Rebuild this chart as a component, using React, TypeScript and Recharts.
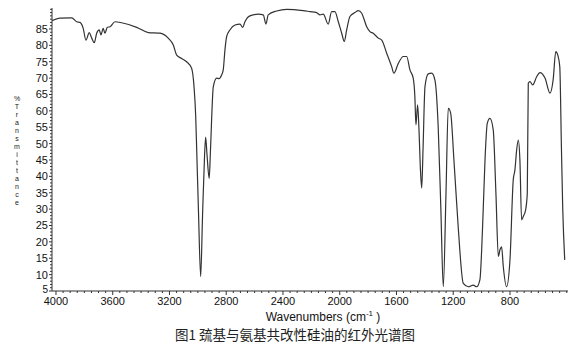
import React from "react";
import { LineChart, Line, XAxis, YAxis } from "recharts";

const wavenumbers = [
  4028, 3972, 3889, 3854, 3831, 3808, 3789, 3765, 3748, 3730, 3713, 3695, 3683, 3667, 3655, 3638, 3619, 3584,
  3537, 3431, 3349, 3267, 3209, 3173, 3149, 3114, 3079, 3044, 3027, 3015, 3008, 2996, 2980, 2967, 2953, 2945,
  2936, 2920, 2911, 2891, 2867, 2851, 2832, 2821, 2809, 2797, 2774, 2738, 2703, 2684, 2668, 2633, 2574, 2539,
  2520, 2504, 2444, 2374, 2257, 2210, 2163, 2139, 2116, 2081, 2057, 2034, 2010, 1986, 1968, 1951, 1928, 1893,
  1869, 1845, 1810, 1787, 1764, 1728, 1704, 1669, 1634, 1618, 1587, 1552, 1528, 1505, 1482, 1470, 1463, 1451,
  1442, 1431, 1422, 1413, 1399, 1376, 1352, 1329, 1306, 1287, 1270, 1251, 1235, 1218, 1195, 1165, 1129, 1094,
  1059, 1035, 1012, 993, 976, 960, 941, 918, 899, 882, 871, 859, 847, 824, 800, 777, 765, 753, 741, 730, 718,
  707, 690, 678, 671, 659, 640, 612, 589, 553, 518, 496, 477, 463, 449, 437, 428, 414,
];

const transmittance = [
  87.5, 88.3, 88.4, 87.2, 87.0, 85.2, 81.6, 83.9, 82.2, 80.8, 83.7, 84.7, 83.2, 85.2, 83.7, 85.5, 85.7, 87.2,
  86.9, 85.5, 83.9, 83.7, 82.2, 80.1, 77.0, 76.0, 75.0, 73.0, 67.4, 58.2, 48.0, 30.0, 9.4, 28.0, 46.0, 52.0,
  47.0, 39.4, 48.0, 67.4, 70.0, 69.8, 71.0, 72.5, 78.6, 82.7, 84.7, 86.2, 86.5, 85.5, 87.2, 89.0, 89.5, 89.3,
  86.5, 89.3, 90.5, 91.0, 90.6, 90.3, 90.0, 89.3, 89.5, 86.5, 90.3, 90.3, 87.2, 83.7, 81.2, 84.7, 88.8, 90.0,
  90.6, 89.8, 85.7, 84.2, 83.7, 82.2, 81.6, 77.6, 73.5, 71.5, 74.5, 76.6, 76.6, 72.5, 70.0, 64.0, 55.7, 61.8,
  55.0, 42.0, 36.4, 48.0, 67.4, 71.3, 71.5, 69.4, 55.2, 29.7, 6.3, 34.8, 60.8, 59.3, 45.0, 24.6, 7.3, 6.3,
  6.8, 6.3, 8.4, 24.6, 45.0, 56.2, 57.7, 54.2, 34.8, 15.5, 17.5, 18.5, 12.4, 6.3, 14.5, 38.9, 42.0, 48.0, 51.1,
  45.0, 26.7, 27.7, 29.7, 34.8, 68.4, 68.9, 67.9, 70.4, 71.7, 70.0, 65.4, 69.4, 78.1, 77.0, 73.5, 48.0, 30.0,
  14.5,
];

const xMajorTicks = [4000, 3600, 3200, 2800, 2400, 2000, 1600, 1200, 800];
const yMajorTicks = [5, 10, 15, 20, 25, 30, 35, 40, 45, 50, 55, 60, 65, 70, 75, 80, 85];

const yLabel = "%Transmittance";
const xLabel = "Wavenumbers (cm";
const caption = "图1 巯基与氨基共改性硅油的红外光谱图";

const data = wavenumbers.map((wn, i) => ({ wn, t: transmittance[i] }));

const xTicks: number[] = [];
for (let v = 4000; v >= 400; v -= 50) xTicks.push(v);
const yTicks: number[] = [];
for (let v = 5; v <= 91; v += 1) yTicks.push(v);

const FONT = "'Liberation Sans', Arial, sans-serif";

const XTick = (props: any) => {
  const { x, y, payload } = props;
  const major = xMajorTicks.includes(payload.value);
  return (
    <g>
      <line x1={x} x2={x} y1={y} y2={y + (major ? 4 : 2)} stroke="#333" strokeWidth={1} />
      {major && (
        <text x={x} y={y + 14} textAnchor="middle" fontSize={11} fill="#111" fontFamily={FONT}>
          {payload.value}
        </text>
      )}
    </g>
  );
};

const YTick = (props: any) => {
  const { x, y, payload } = props;
  const major = yMajorTicks.includes(payload.value);
  const isMin = payload.value === yMajorTicks[0];
  return (
    <g>
      <line x1={x} x2={x - (major ? 3 : 2)} y1={y} y2={y} stroke="#333" strokeWidth={1} />
      {major && (
        <text
          x={x - 4}
          y={y + (isMin ? 2 : 4)}
          textAnchor="end"
          fontSize={isMin ? 10 : 11}
          fill="#111"
          fontFamily={FONT}
        >
          {payload.value}
        </text>
      )}
    </g>
  );
};

export default function App() {
  return (
    <div style={{ position: "absolute", left: 0, top: 0, width: 581, height: 351, background: "#fff" }}>
      <LineChart width={581} height={351} data={data} margin={{ top: 8, right: 13, bottom: 0, left: 0 }}>
        <XAxis
          dataKey="wn"
          type="number"
          domain={[391, 4028]}
          reversed
          allowDataOverflow
          ticks={xTicks}
          interval={0}
          tickSize={0}
          tickMargin={0}
          tickLine={false}
          tick={<XTick />}
          height={60}
          axisLine={{ stroke: "#333" }}
        />
        <YAxis
          type="number"
          domain={[5, 91.4]}
          allowDataOverflow
          ticks={yTicks}
          interval={0}
          tickSize={0}
          tickMargin={0}
          tickLine={false}
          tick={<YTick />}
          width={52}
          axisLine={{ stroke: "#333" }}
        />
        <Line
          dataKey="t"
          type="monotone"
          stroke="#333"
          strokeWidth={1.2}
          dot={false}
          isAnimationActive={false}
        />
      </LineChart>
      <div
        style={{
          position: "absolute",
          left: 12,
          top: 95,
          width: 10,
          display: "flex",
          flexDirection: "column",
          alignItems: "center",
          fontFamily: FONT,
          fontSize: 7,
          lineHeight: "8px",
          color: "#222",
        }}
      >
        {yLabel.split("").map((c, i) => (
          <span key={i} style={{ display: "block", height: 8, lineHeight: "8px" }}>{c}</span>
        ))}
      </div>
      <div
        style={{
          position: "absolute",
          left: 0,
          width: 646,
          top: 309,
          textAlign: "center",
          fontFamily: FONT,
          fontSize: 12,
          color: "#111",
          whiteSpace: "nowrap",
        }}
      >
        {xLabel}
        <sup style={{ fontSize: 8 }}>-1</sup>
        {" )"}
      </div>
      <div
        style={{
          position: "absolute",
          left: 0,
          width: 590,
          top: 324,
          textAlign: "center",
          fontFamily: "'Noto Sans CJK SC', sans-serif",
          fontSize: 13.5,
          color: "#222",
          whiteSpace: "nowrap",
        }}
      >
        {caption}
      </div>
    </div>
  );
}
